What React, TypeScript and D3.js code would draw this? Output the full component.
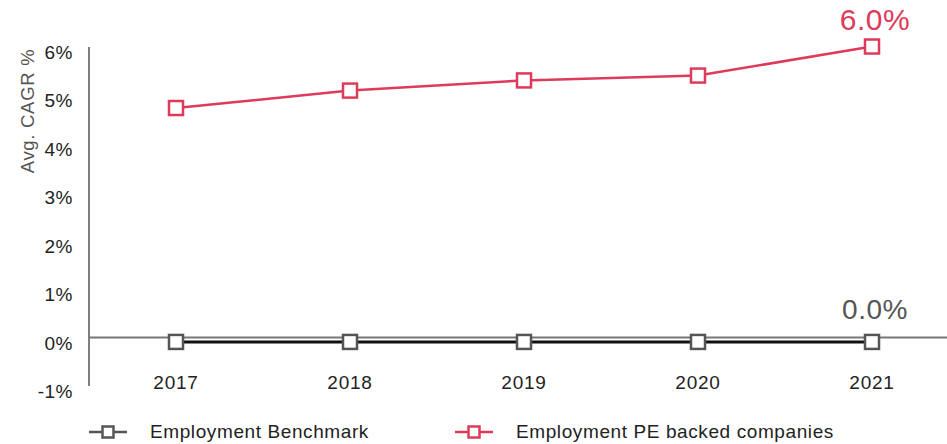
import * as d3 from "d3";

const years = ["2017", "2018", "2019", "2020", "2021"];
const peBacked = [4.74, 5.1, 5.31, 5.41, 6.01];
const benchmark = [-0.09, -0.09, -0.09, -0.09, -0.09];
const yTicks = [-1, 0, 1, 2, 3, 4, 5, 6];
const lastLabels = ["0.0%", "6.0%"];
const legendLabels = ["Employment Benchmark", "Employment PE backed companies"];

const W = 947;
const H = 444;
const RED = "#dd3b59";
const GREY = "#555";
const FONT = "'Liberation Sans', Arial, sans-serif";

export default function App() {
  const x = d3.scalePoint<string>().domain(years).range([176, 872]);
  const y = d3.scaleLinear().domain([-1, 6]).range([386, 47]);

  const line = d3
    .line<number>()
    .x((_, i) => x(years[i]) ?? 0)
    .y((d) => y(d));

  const marker = (cx: number, cy: number, color: string, size: number, key: string) => (
    <rect
      key={key}
      x={cx - size / 2}
      y={cy - size / 2}
      width={size}
      height={size}
      fill="#fff"
      stroke={color}
      strokeWidth={2.5}
    />
  );

  const lastX = x(years[years.length - 1]) ?? 0;

  return (
    <svg
      width={W}
      height={H}
      style={{ position: "absolute", left: 0, top: 0, fontFamily: FONT }}
    >
      {/* Y axis */}
      <line x1={89} x2={89} y1={y(6)} y2={y(-1)} stroke={GREY} strokeWidth={1.5} />
      {yTicks.map((t) => (
        <text
          key={t}
          x={73}
          y={y(t) + 7}
          textAnchor="end"
          dominantBaseline="middle"
          fontSize={19}
          letterSpacing={0.5}
          fill="#222"
        >
          {t}%
        </text>
      ))}
      <text
        transform={`translate(34,111) rotate(-90)`}
        textAnchor="middle"
        fontSize={18.5}
        letterSpacing={0.7}
        fill={GREY}
      >
        Avg. CAGR %
      </text>

      {/* Zero line */}
      <line x1={89} x2={W} y1={y(0)} y2={y(0)} stroke="#777" strokeWidth={2} />

      {/* X labels */}
      {years.map((yr) => (
        <text
          key={yr}
          x={x(yr)}
          y={389}
          textAnchor="middle"
          fontSize={19}
          letterSpacing={0.8}
          fill="#222"
        >
          {yr}
        </text>
      ))}

      {/* Benchmark series */}
      <path d={line(benchmark) ?? ""} fill="none" stroke="#111" strokeWidth={3} />
      {benchmark.map((v, i) => marker(x(years[i]) ?? 0, y(v), GREY, 14, "b" + i))}

      {/* PE backed series */}
      <path d={line(peBacked) ?? ""} fill="none" stroke={RED} strokeWidth={2.5} />
      {peBacked.map((v, i) => marker(x(years[i]) ?? 0, y(v), RED, 14, "p" + i))}

      {/* End labels */}
      <text x={lastX + 3} y={319} textAnchor="middle" fontSize={28} letterSpacing={0.5} fill={GREY}>
        {lastLabels[0]}
      </text>
      <text x={lastX + 3} y={30} textAnchor="middle" fontSize={30} letterSpacing={0.5} fill={RED}>
        {lastLabels[1]}
      </text>

      {/* Legend */}
      {[GREY, RED].map((c, i) => {
        const lx = i === 0 ? 89 : 455;
        return (
          <g key={c}>
            <line x1={lx} x2={lx + 38} y1={432} y2={432} stroke={c} strokeWidth={2.5} />
            {marker(lx + 19, 432, c, 11, "l" + i)}
            <text x={lx + 61} y={438} fontSize={19} letterSpacing={0.6} fill="#222">
              {legendLabels[i]}
            </text>
          </g>
        );
      })}
    </svg>
  );
}
